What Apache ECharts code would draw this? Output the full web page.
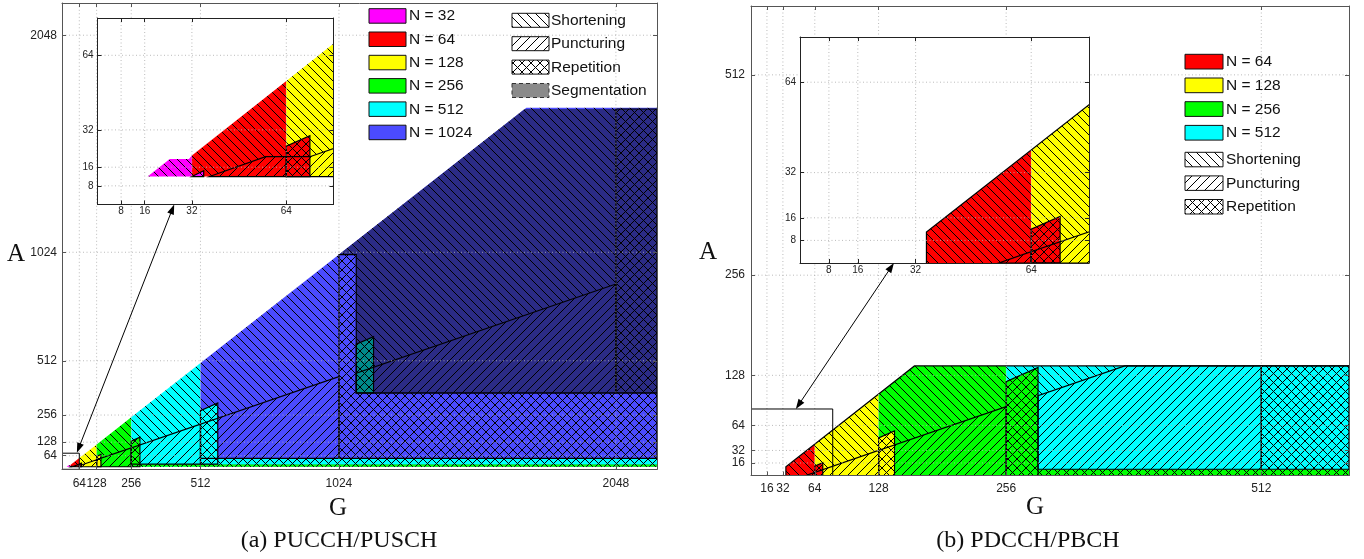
<!DOCTYPE html>
<html><head><meta charset="utf-8">
<script src="https://cdn.jsdelivr.net/npm/echarts@6.0.0/dist/echarts.min.js"></script>
<style>html,body{margin:0;padding:0;background:#fff}#c{width:1364px;height:559px}</style>
</head><body><div id="c"></div>
<script>
// ================= DATA =================
// tick labels
const aTicks = [64, 128, 256, 512, 1024, 2048];
const bTicks = [16, 32, 64, 128, 256, 512];
const insetTicks = [8, 16, 32, 64];

// (a) PUCCH/PUSCH : polygon vertices [G, A]
const aMagentaShort = [[17,12],[24.5,19.5],[31,19.5],[32,21],[32,12]];
const aRedShort     = [[32,12],[32,21],[64,53],[64,12]];
const aYellowShort  = [[64,12],[64,53],[128,117],[128,12]];
const aGreenShort   = [[128,12],[128,117],[256,245],[256,12]];
const aCyanShort    = [[256,12],[256,245],[512,501],[512,12]];
const aBlueShort    = [[512,12],[512,501],[1717,1706],[2200,1706],[2200,12]];
const aGreenStrip   = [[256,12],[256,24],[2200,24],[2200,12]];
const aCyanStrip    = [[512,24],[512,52],[2200,52],[2200,24]];
const aRedPunct     = [[38,12],[57,20.5],[64,20.5],[64,12]];
const aYellowPunct  = [[64,12],[64,20.5],[72,20.5],[128,45],[128,12]];
const aGreenPunct   = [[128,12],[128,45],[256,101],[256,12]];
const aCyanPunct    = [[256,24],[256,101],[512,213],[512,24]];
const aBluePunct    = [[512,52],[512,213],[1024,437],[1024,52]];
const aMagentaRep   = [[32,12],[36,14.5],[36,12]];
const aRedRep       = [[64,12],[64,25],[72,29.5],[72,12]];
const aYellowRep    = [[128,12],[128,61],[144,70],[144,12]];
const aGreenRep     = [[256,12],[256,133],[288,151],[288,12]];
const aCyanRep      = [[512,24],[512,277],[576,313],[576,24]];
const aBlueRep      = [[1024,52],[1024,1013],[1088,1013],[1088,360],[2200,360],[2200,52]];
const aSegShort     = [[1024,1013],[1711,1700],[2048,1700],[2048,874],[1088,454],[1088,1013]];
const aSegPunct     = [[1088,360],[1088,454],[2048,874],[2048,360]];
const aSegCyanRep   = [[1088,360],[1088,590],[1152,626],[1152,360]];
const aSegRep       = [[2048,360],[2048,1700],[2200,1700],[2200,360]];
const aZoomBox      = [[0,0],[64,0],[64,76],[0,76],[0,0]];
const aArrowInset   = [26, 0];
const aArrowMain    = [55, 78];

// (b) PDCCH/PBCH : polygon vertices [G, A]
const bRedShort     = [[35,0],[35,11],[64,40],[64,0]];
const bYellowShort  = [[64,0],[64,40],[128,104],[128,0]];
const bGreenShort   = [[128,0],[128,104],[164,140],[256,140],[256,0]];
const bCyanShort    = [[256,0],[256,140],[512,140],[512,0]];
const bGreenStrip   = [[256,0],[256,8],[600,8],[600,0]];
const bRedPunct     = [[55,0],[64,4],[64,0]];
const bYellowPunct  = [[64,0],[64,4],[128,32],[128,0]];
const bGreenPunct   = [[128,0],[128,32],[256,88],[256,0]];
const bCyanPunct    = [[288,8],[288,102],[375,140],[512,140],[512,8]];
const bRedRep       = [[64,0],[64,12],[72,16.5],[72,0]];
const bYellowRep    = [[128,0],[128,48],[144,57],[144,0]];
const bGreenRep     = [[256,0],[256,120],[288,138],[288,0]];
const bCyanRep      = [[512,8],[512,140],[600,140],[600,8]];
const bBoundary     = [[35,0],[35,11],[164,140],[600,140]];
const bZoomBox      = [[0,0],[82,0],[82,85],[0,85],[0,0]];
const bArrowInset   = [26, 0];
const bArrowMain    = [45, 85];

// legend labels
const aLegendN = ['N = 32','N = 64','N = 128','N = 256','N = 512','N = 1024'];
const bLegendN = ['N = 64','N = 128','N = 256','N = 512'];
const hatchNames = ['Shortening','Puncturing','Repetition','Segmentation'];

// ================= STYLES =================
const COL = {m:'#ff00ff', r:'#ff0000', y:'#ffff00', g:'#00ff00', c:'#00ffff',
             b:'#4b4bff', nb:'#2b2b86', tc:'#008a8a', w:'#ffffff'};
// [vertices, colour, hatch, outlined]
const aRegions = [
  [aMagentaShort,'m','S',0],[aRedShort,'r','S',0],[aYellowShort,'y','S',0],
  [aGreenShort,'g','S',0],[aCyanShort,'c','S',0],[aBlueShort,'b','S',0],
  [aGreenStrip,'g','R',0],[aCyanStrip,'c','R',0],
  [aRedPunct,'r','P',1],[aYellowPunct,'y','P',1],[aGreenPunct,'g','P',1],
  [aCyanPunct,'c','P',1],[aBluePunct,'b','P',1],
  [aMagentaRep,'m','R',1],[aRedRep,'r','R',1],[aYellowRep,'y','R',1],
  [aGreenRep,'g','R',1],[aCyanRep,'c','R',1],[aBlueRep,'b','R',1],
  [aSegShort,'nb','S',0],[aSegPunct,'nb','P',1],[aSegCyanRep,'tc','R',1],[aSegRep,'nb','R',1]
];
const bRegions = [
  [bRedShort,'r','S',0],[bYellowShort,'y','S',0],[bGreenShort,'g','S',0],[bCyanShort,'c','S',0],
  [bGreenStrip,'g','R',0],
  [bRedPunct,'r','P',1],[bYellowPunct,'y','P',1],[bGreenPunct,'g','P',1],[bCyanPunct,'c','P',1],
  [bRedRep,'r','R',1],[bYellowRep,'y','R',1],[bGreenRep,'g','R',1],[bCyanRep,'c','R',1]
];

const patCache = {};
function pat(ck, h) {
  const key = ck + '|' + h;
  if (patCache[key]) return patCache[key];
  const s = 9, cv = document.createElement('canvas');
  cv.width = s; cv.height = s;
  const g = cv.getContext('2d');
  g.fillStyle = COL[ck] || ck; g.fillRect(0, 0, s, s);
  g.strokeStyle = '#000'; g.lineWidth = 1;
  g.beginPath();
  for (let k = -1; k <= 1; k++) {
    if (h === 'S' || h === 'R') { g.moveTo(k*s, 0); g.lineTo(k*s + s, s); }
    if (h === 'P' || h === 'R') { g.moveTo(k*s, s); g.lineTo(k*s + s, 0); }
  }
  g.stroke();
  return (patCache[key] = {image: cv, repeat: 'repeat'});
}

const SANS = '"Liberation Sans", Arial, Helvetica, sans-serif';
const SERIF = '"Liberation Serif", "Times New Roman", serif';

function fillSeries(regions, ai, z) {
  return {type:'custom', xAxisIndex:ai, yAxisIndex:ai, z, clip:true, silent:true, animation:false,
    data: regions.map((r,i)=>[i,0]),
    renderItem(params, api) {
      const r = regions[params.dataIndex];
      return {type:'polygon', shape:{points:r[0].map(p=>api.coord(p))},
              style:{fill:pat(r[1], r[2]), stroke:null}};
    }};
}
function outlineSeries(regions, ai, z, extraLines) {
  const items = regions.filter(r=>r[3]).map(r=>({pts:r[0], closed:true}));
  (extraLines||[]).forEach(l=>items.push({pts:l, closed:false}));
  return {type:'custom', xAxisIndex:ai, yAxisIndex:ai, z, clip:true, silent:true, animation:false,
    data: items.map((r,i)=>[i,0]),
    renderItem(params, api) {
      const it = items[params.dataIndex];
      const pts = it.pts.map(p=>api.coord(p));
      return it.closed
        ? {type:'polygon', shape:{points:pts}, style:{fill:null, stroke:'#000', lineWidth:1.2}}
        : {type:'polyline', shape:{points:pts}, style:{fill:null, stroke:'#000', lineWidth:1.2}};
    }};
}
function gridSeries(ticks, ai, z, lo, hi) {
  return {type:'custom', xAxisIndex:ai, yAxisIndex:ai, z, clip:true, silent:true, animation:false,
    data:[[0,0]],
    renderItem(params, api) {
      const ch = [];
      const st = {stroke:'rgba(175,175,175,0.85)', lineWidth:1, lineDash:[1,2.5]};
      ticks.forEach(v=>{
        const a = api.coord([v, lo]), b = api.coord([v, hi]);
        ch.push({type:'line', shape:{x1:a[0],y1:a[1],x2:b[0],y2:b[1]}, style:st});
        const c = api.coord([lo, v]), d = api.coord([hi, v]);
        ch.push({type:'line', shape:{x1:c[0],y1:c[1],x2:d[0],y2:d[1]}, style:st});
      });
      return {type:'group', children:ch};
    }};
}
function boxSeries(pts, ai, z) {
  return {type:'custom', xAxisIndex:ai, yAxisIndex:ai, z, clip:true, silent:true, animation:false,
    data:[[0,0]],
    renderItem(params, api) {
      return {type:'polyline', shape:{points:pts.map(p=>api.coord(p))},
              style:{fill:null, stroke:'#000', lineWidth:1}};
    }};
}
function bgSeries(ai, z, hi) {
  return {type:'custom', xAxisIndex:ai, yAxisIndex:ai, z, clip:false, silent:true, animation:false,
    data:[[0,0]],
    renderItem(params, api) {
      const a = api.coord([0,0]), b = api.coord([hi,hi]);
      return {type:'rect', shape:{x:a[0], y:b[1], width:b[0]-a[0], height:a[1]-b[1]},
              style:{fill:'#fff'}};
    }};
}
function xAx(gi, max, ticks, pos, showLab, margin, fs, color, z) {
  return {type:'value', gridIndex:gi, min:0, max, position:pos, z,
    axisLine:{show:true, onZero:false, lineStyle:{color, width:1}},
    axisTick:{show:true, inside:true, length:4, customValues:ticks, lineStyle:{color}},
    axisLabel:{show:showLab, customValues:ticks, margin, fontSize:fs, fontFamily:SANS, color:'#222',
               formatter: v => String(v)},
    splitLine:{show:false}};
}
const yAx = xAx;

const chart = echarts.init(document.getElementById('c'), null, {renderer:'canvas'});
chart.setOption({
  animation:false,
  grid:[
    {left:62, top:3, width:595, height:466.3, show:false},
    {left:97.5, top:18, width:236, height:186.5, show:false},
    {left:751, top:6, width:598, height:469.5, show:false},
    {left:800, top:37, width:289, height:226, show:false}
  ],
  xAxis:[
    xAx(0,2200,aTicks,'bottom',true,8,12,'#555',4),
    xAx(1,80,insetTicks,'bottom',true,2,10,'#222',9),
    xAx(2,600,bTicks,'bottom',true,7,12,'#555',4),
    xAx(3,80,insetTicks,'bottom',true,2,10,'#222',9),
    xAx(0,2200,aTicks,'top',false,8,11,'#555',4),
    xAx(1,80,insetTicks,'top',false,2,10,'#222',9),
    xAx(2,600,bTicks,'top',false,8,11,'#555',4),
    xAx(3,80,insetTicks,'top',false,2,10,'#222',9)
  ],
  yAxis:[
    yAx(0,2200,aTicks,'left',true,5,12,'#555',4),
    yAx(1,80,insetTicks,'left',true,4,10,'#222',9),
    yAx(2,600,bTicks,'left',true,6,12,'#555',4),
    yAx(3,80,insetTicks,'left',true,4,10,'#222',9),
    yAx(0,2200,aTicks,'right',false,5,11,'#555',4),
    yAx(1,80,insetTicks,'right',false,4,10,'#222',9),
    yAx(2,600,bTicks,'right',false,5,11,'#555',4),
    yAx(3,80,insetTicks,'right',false,4,10,'#222',9)
  ],
  series:[
    fillSeries(aRegions,0,2), outlineSeries(aRegions,0,3), gridSeries(aTicks,0,3.5,0,2200), boxSeries(aZoomBox,0,4),
    bgSeries(1,5,80), fillSeries(aRegions,1,6), outlineSeries(aRegions,1,7), gridSeries(insetTicks,1,8,0,80),
    fillSeries(bRegions,2,2), outlineSeries(bRegions,2,3,[bBoundary]), gridSeries(bTicks,2,3.5,0,600), boxSeries(bZoomBox,2,4),
    bgSeries(3,5,80), fillSeries(bRegions,3,6), outlineSeries(bRegions,3,7,[bBoundary]), gridSeries(insetTicks,3,8,0,80)
  ]
});

// ---------- annotations: legend, titles, arrows ----------
const G = [];
function txt(t, x, y, font, align) {
  G.push({type:'text', z:20, silent:true,
    style:{text:t, x, y, font, fill:'#111', align:align||'left', verticalAlign:'middle',
           textAlign:align||'left', textVerticalAlign:'middle'}});
}
function box(x, y, w, h, fill, dashed) {
  G.push({type:'rect', z:20, silent:true, shape:{x, y, width:w, height:h},
    style:{fill, stroke: dashed ? '#333' : '#111', lineWidth:1, lineDash: dashed ? [4,3] : null}});
}
const LF = '15.5px ' + SANS;
// (a) legend
['m','r','y','g','c','b'].forEach((ck,i)=>{
  const y = 8.7 + i*23.3;
  box(369, y, 37, 14.5, COL[ck]);
  txt(aLegendN[i], 409, y + 7.5, LF);
});
['S','P','R'].forEach((h,i)=>{
  const y = 13.3 + i*23.4;
  box(512, y, 37, 14, pat('w', h));
  txt(hatchNames[i], 551, y + 7.2, LF);
});
box(512, 13.3 + 3*23.4, 37, 14, '#8a8a8a', true);
txt(hatchNames[3], 551, 13.3 + 3*23.4 + 7.2, LF);
// (b) legend
['r','y','g','c'].forEach((ck,i)=>{
  const y = 54.3 + i*23.7;
  box(1185, y, 38, 14.7, COL[ck]);
  txt(bLegendN[i], 1226, y + 7.6, LF);
});
['S','P','R'].forEach((h,i)=>{
  const y = 152.3 + i*23.6;
  box(1185, y, 38, 14.5, pat('w', h));
  txt(hatchNames[i], 1226, y + 7.4, LF);
});
// axis titles & captions
txt('A', 16, 254, '25px ' + SERIF, 'center');
txt('G', 338, 508, '25px ' + SERIF, 'center');
txt('(a) PUCCH/PUSCH', 339, 541, '24px ' + SERIF, 'center');
txt('A', 708, 252, '25px ' + SERIF, 'center');
txt('G', 1035, 507, '25px ' + SERIF, 'center');
txt('(b) PDCCH/PBCH', 1028, 541, '24px ' + SERIF, 'center');

function arrow(p1, p2) {
  const dx = p2[0]-p1[0], dy = p2[1]-p1[1], L = Math.hypot(dx, dy);
  const ux = dx/L, uy = dy/L, nx = -uy, ny = ux, hl = 10, hw = 3.5;
  G.push({type:'line', z:20, silent:true, shape:{x1:p1[0]+ux*hl*0.8, y1:p1[1]+uy*hl*0.8, x2:p2[0]-ux*hl*0.8, y2:p2[1]-uy*hl*0.8},
          style:{stroke:'#000', lineWidth:1}});
  [[p1,-1],[p2,1]].forEach(([p,sg])=>{
    const bx = p[0] - sg*ux*hl, by = p[1] - sg*uy*hl;
    G.push({type:'polygon', z:20, silent:true,
      shape:{points:[[p[0],p[1]],[bx+nx*hw,by+ny*hw],[bx-nx*hw,by-ny*hw]]}, style:{fill:'#000'}});
  });
}
arrow(chart.convertToPixel({xAxisIndex:1, yAxisIndex:1}, aArrowInset),
      chart.convertToPixel({xAxisIndex:0, yAxisIndex:0}, aArrowMain));
arrow(chart.convertToPixel({xAxisIndex:3, yAxisIndex:3}, bArrowInset),
      chart.convertToPixel({xAxisIndex:2, yAxisIndex:2}, bArrowMain));

chart.setOption({graphic:{elements:G}});
</script></body></html>
